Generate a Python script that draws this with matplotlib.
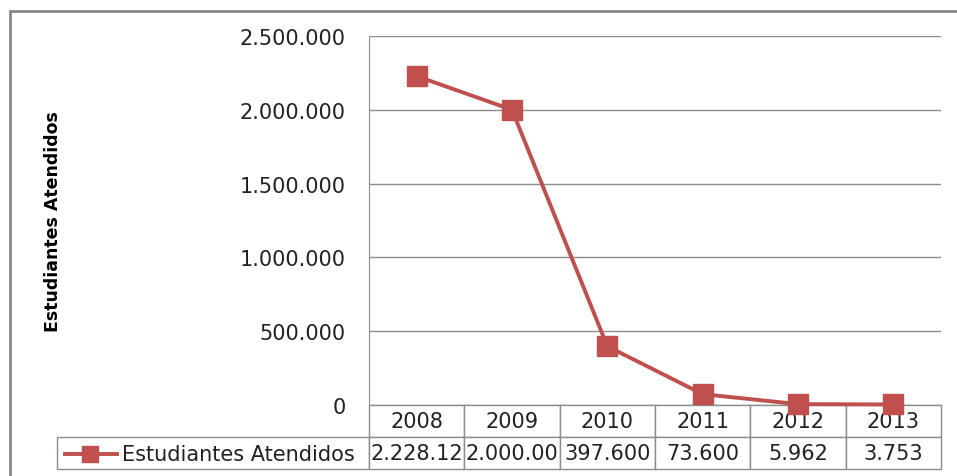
import matplotlib
matplotlib.use("Agg")
import matplotlib.pyplot as plt
from matplotlib.patches import Rectangle
from matplotlib.table import Table
from matplotlib.ticker import FuncFormatter

years = ["2008", "2009", "2010", "2011", "2012", "2013"]
estudiantes = [2228120, 2000000, 397600, 73600, 5962, 3753]
serie = "Estudiantes Atendidos"
yticks = [0, 500000, 1000000, 1500000, 2000000, 2500000]

rojo = "#c0504d"
gris = "#8c8c8c"


def puntos(v):
    return f"{int(v):,}".replace(",", ".")


fig = plt.figure(figsize=(9.57, 4.77), dpi=100)
ax = fig.add_axes([369 / 957, 1 - 406 / 477, 572 / 957, 369 / 477])

x = list(range(len(years)))
ax.plot(x, estudiantes, color=rojo, lw=2.8, marker="s", ms=15,
        mec=rojo, mfc=rojo, clip_on=False, zorder=5)

ax.set_xlim(-0.5, 5.5)
ax.set_ylim(0, 2500000)
ax.set_yticks(yticks)
ax.yaxis.set_major_formatter(FuncFormatter(lambda v, p: puntos(v)))
ax.set_xticks([])
ax.tick_params(axis="y", length=0, pad=17, labelsize=15, colors="#222222")
ax.grid(axis="y", color=gris, lw=1)
ax.set_axisbelow(True)
for s in ["top", "right", "bottom"]:
    ax.spines[s].set_visible(False)
ax.spines["left"].set_color(gris)

ax.set_ylabel(serie, fontsize=12.5, fontweight="bold", color="black")
ax.yaxis.set_label_coords((62 - 369) / 572, 0.5)

# data table under the axis (Excel style); bbox covers the data cells only
tabla = Table(ax, bbox=[0, -64 / 369, 1, 64 / 369])
tabla.add_cell(1, -1, width=312 / 572, height=0.5, text="")
for i, (yr, v) in enumerate(zip(years, estudiantes)):
    tabla.add_cell(0, i, width=1 / 6, height=0.5, text=yr, loc="center")
    tabla.add_cell(1, i, width=1 / 6, height=0.5, text=puntos(v)[:8],
                   loc="center")
tabla.auto_set_font_size(False)
tabla.set_fontsize(15)
for (r, c), cell in tabla.get_celld().items():
    cell.set_edgecolor(gris)
    cell.set_linewidth(1)
    cell.get_text().set_color("#222222")
ax.add_table(tabla)

ly = -49 / 369
ax.plot([(65 - 369) / 572, (90 - 369) / 572, (117 - 369) / 572], [ly, ly, ly],
        transform=ax.transAxes, clip_on=False, color=rojo, lw=2.8,
        marker="s", ms=12, markevery=[1], zorder=6)
ax.text((122 - 369) / 572, ly, serie, transform=ax.transAxes,
        ha="left", va="center", fontsize=15, color="#222222")

# outer chart frame
fig.add_artist(Rectangle((10 / 957, -0.1), 2, 1 - 12 / 477 + 0.1,
                         transform=fig.transFigure, fill=False,
                         edgecolor="#868686", lw=2))

fig.savefig("out.png", dpi=100)
